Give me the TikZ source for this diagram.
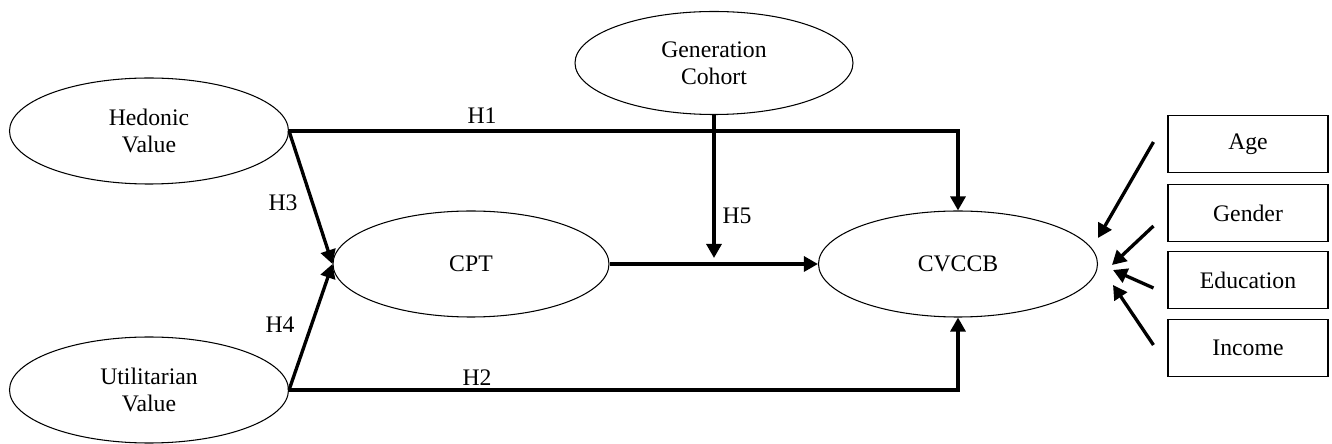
\documentclass[tikz,border=0pt]{standalone}
\usepackage{fontspec}
\setmainfont{Liberation Serif}
\usetikzlibrary{arrows.meta, shapes.geometric}

\begin{document}
\begin{tikzpicture}[x=0.2mm,y=-0.2mm,
    font=\fontsize{13.5}{15.5}\selectfont,
    lat/.style={ellipse,draw,line width=.6pt,inner sep=0pt,align=center,
      minimum width=5.58cm,minimum height=2.12cm},
    ctrl/.style={rectangle,draw,line width=.6pt,minimum width=3.2cm,minimum height=1.14cm},
    arr/.style={line width=1.9pt,-{Triangle[length=8pt,width=8.5pt]}},
    hyp/.style={inner sep=1pt}]
  \useasboundingbox (0,0) rectangle (1332,444);
  % constructs
  \node[lat] (hed) at (149,131) {Hedonic\\Value};
  \node[lat] (util) at (149,390) {Utilitarian\\Value};
  \node[lat,minimum width=5.56cm,minimum height=2.06cm] (gen) at (714,63) {Generation\\Cohort};
  \node[lat,minimum width=5.52cm] (cpt) at (471,264) {CPT};
  \node[lat] (cvccb) at (958,264) {CVCCB};
  % controls
  \foreach \n/\t/\y in {age/Age/144,gender/Gender/213,edu/Education/280,inc/Income/348}
    \node[ctrl] (\n) at (1248,\y) {\t};
  \coordinate (mod) at (714,258);
  \coordinate (t1) at (1098,238);
  \coordinate (t2) at (1112,265);
  \coordinate (t3) at (1113,270);
  \coordinate (t4) at (1113,285);
  % paths
  \draw[arr] (hed.east) -| (cvccb.north);
  \draw[arr] (util.east) -| (cvccb.south);
  \draw[arr] (hed.east) -- (cpt.west);
  \draw[arr] (util.east) -- (cpt.west);
  \draw[arr] (cpt.east) -- (cvccb.west);
  \draw[arr] (gen.south) -- (mod);
  \draw[arr] ([xshift=-2.8mm,yshift=.4mm]age.west) -- (t1);
  \draw[arr] ([xshift=-2.8mm,yshift=-2.6mm]gender.west) -- (t2);
  \draw[arr] ([xshift=-2.8mm,yshift=-1.6mm]edu.west) -- (t3);
  \draw[arr] ([xshift=-2.8mm,yshift=.6mm]inc.west) -- (t4);
  % labels
  \node[hyp] (h1) at (482,116) {H1};
  \node[hyp] (h2) at (477,378) {H2};
  \node[hyp] (h3) at (283,203) {H3};
  \node[hyp] (h4) at (280,325) {H4};
  \node[hyp] (h5) at (737,216) {H5};
\end{tikzpicture}
\end{document}
